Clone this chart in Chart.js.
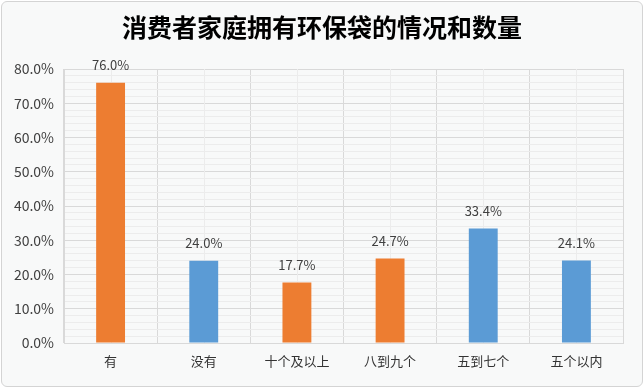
<!DOCTYPE html>
<html>
<head>
<meta charset="utf-8">
<script src="https://cdn.jsdelivr.net/npm/chart.js@4"></script>
<style>
  html, body { margin: 0; padding: 0; background: #ffffff; }
  #wrap {
    position: absolute; left: 1px; top: 1px; width: 640px; height: 384px;
    border: 1px solid #d4d4d4; border-radius: 6px; background: #f8f9f9;
    overflow: hidden;
  }
</style>
</head>
<body>
<div id="wrap"><canvas id="barChart" width="640" height="384"></canvas></div>
<script>
var categories = ["有", "没有", "十个及以上", "八到九个", "五到七个", "五个以内"];
var values = [76.0, 24.0, 17.7, 24.7, 33.4, 24.1];
var barColors = ["#ED7D31", "#5B9BD5", "#ED7D31", "#ED7D31", "#5B9BD5", "#5B9BD5"];
var yTicks = [0, 10, 20, 30, 40, 50, 60, 70, 80];
var titleText = "消费者家庭拥有环保袋的情况和数量";

var font = "'Noto Sans CJK SC', 'Noto Sans', sans-serif";

// faint lines at category centres, value labels above bars, title centred on the canvas
var extras = {
    id: "extras",
    beforeDatasetsDraw: function (chart) {
        var c = chart.ctx, x = chart.scales.x, a = chart.chartArea;
        c.save();
        c.strokeStyle = "#ececec";
        c.lineWidth = 1;
        for (var i = 0; i < categories.length; i++) {
            var px = Math.round(x.getPixelForValue(i)) + 0.5;
            c.beginPath();
            c.moveTo(px, a.top);
            c.lineTo(px, a.bottom);
            c.stroke();
        }
        c.restore();
    },
    afterDatasetsDraw: function (chart) {
        var c = chart.ctx;
        var meta = chart.getDatasetMeta(0);
        c.save();
        c.fillStyle = "#404040";
        c.font = "13px " + font;
        c.textAlign = "center";
        c.textBaseline = "bottom";
        meta.data.forEach(function (bar, i) {
            c.fillText(values[i].toFixed(1) + "%", bar.x, bar.y - 11);
        });
        c.fillStyle = "#000000";
        c.font = "bold 25px " + font;
        c.textBaseline = "middle";
        c.fillText(titleText, chart.width / 2, 25);
        c.restore();
    }
};

var ctx = document.getElementById("barChart").getContext("2d");
new Chart(ctx, {
    type: "bar",
    data: {
        labels: categories,
        datasets: [{
            data: values,
            backgroundColor: barColors,
            borderWidth: 0,
            barPercentage: 0.31,
            categoryPercentage: 1.0
        }]
    },
    options: {
        responsive: false,
        animation: false,
        layout: { padding: { left: 0, right: 19, top: 0, bottom: 0 } },
        scales: {
            x: {
                afterFit: function (s) { s.height = 43; },
                grid: { offset: true, color: "#d9d9d9", drawTicks: false },
                border: { color: "#d9d9d9" },
                ticks: { color: "#333333", font: { family: font, size: 13 }, padding: 10, maxRotation: 0 }
            },
            y: {
                min: 0,
                max: 80,
                afterFit: function (s) { s.width = 62; },
                afterBuildTicks: function (scale) {
                    var t = [];
                    for (var v = 0; v <= 80; v += 2) t.push({ value: v });
                    scale.ticks = t;
                },
                grid: {
                    drawTicks: false,
                    color: function (c) {
                        return yTicks.indexOf(c.tick.value) >= 0 ? "#d9d9d9" : "#ececec";
                    }
                },
                border: { color: "#d9d9d9" },
                ticks: {
                    autoSkip: false,
                    color: "#404040",
                    font: { family: font, size: 14 },
                    padding: 10,
                    callback: function (v) {
                        return yTicks.indexOf(v) >= 0 ? v.toFixed(1) + "%" : "";
                    }
                }
            }
        },
        plugins: {
            legend: { display: false },
            tooltip: { enabled: false },
            title: {
                // reserves the space; the text itself is drawn by the extras plugin
                display: true,
                text: titleText,
                color: "rgba(0,0,0,0)",
                font: { family: font, size: 25, weight: "bold", lineHeight: 1.2 },
                padding: { top: 10, bottom: 27 }
            }
        }
    },
    plugins: [extras]
});
</script>
</body>
</html>
